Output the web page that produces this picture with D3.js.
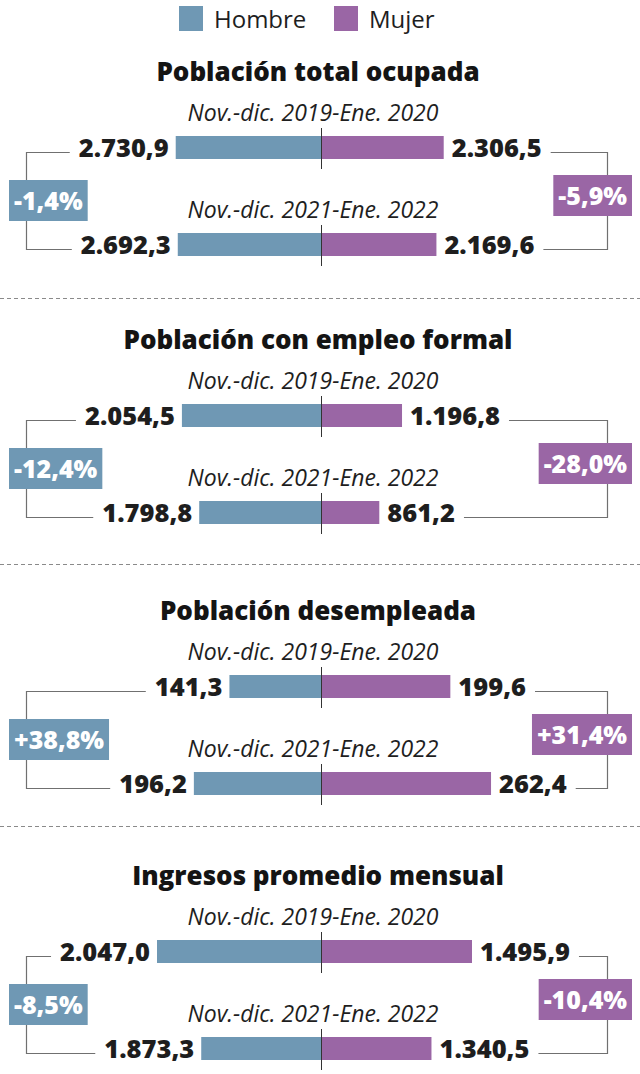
<!DOCTYPE html>
<html><head><meta charset="utf-8">
<script src="https://cdn.jsdelivr.net/npm/d3@7"></script>
<style>body{margin:0;background:#fff}</style>
</head><body>
<svg id="chart" width="640" height="1074"></svg>
<script>
// ---- data ----
const categories = ["Población total ocupada", "Población con empleo formal", "Población desempleada", "Ingresos promedio mensual"];
const periods = ["Nov.-dic. 2019-Ene. 2020", "Nov.-dic. 2021-Ene. 2022"];
const legendLabels = ["Hombre", "Mujer"];
const hombre2019 = [2730.9, 2054.5, 141.3, 2047.0];
const hombre2022 = [2692.3, 1798.8, 196.2, 1873.3];
const mujer2019 = [2306.5, 1196.8, 199.6, 1495.9];
const mujer2022 = [2169.6, 861.2, 262.4, 1340.5];
const cambioHombre = [-1.4, -12.4, 38.8, -8.5];
const cambioMujer = [-5.9, -28.0, 31.4, -10.4];

// ---- layout / style ----
const W = 640, H = 1074;
const CX = 321;
const BLUE = "#6f98b4", PURPLE = "#9a66a5", TXT = "#1e1e1e", LINE = "#707070";
const barTops = [136, 404, 675, 940];
const separators = [298, 564, 826];
const barH = 23, rowGap = 97;
// per-panel scale specs [domainMin, domainMax, pixelLength]
const scaleSpecs = [
  {h: [0, 3000, 159.6], m: [0, 3000, 159.6]},
  {h: [0, 2500, 169.25], m: [0, 2500, 169.25]},
  {h: [0, 300, 194.4], m: [0, 300, 194.4]},
  {h: [1403, 2047, 164], m: [917, 1495.9, 151]}
];

const svg = d3.select("#chart");
const locale = d3.formatLocale({decimal: ",", thousands: ".", grouping: [3], currency: ["", ""], minus: "-"});
const fmtVal = locale.format(",.1f");
const fmtPct = v => locale.format("+.1f")(v) + "%";

// legend
const legendX = [179, 334];
const legendColors = [BLUE, PURPLE];
legendLabels.forEach((l, i) => {
  svg.append("rect").attr("x", legendX[i]).attr("y", 6).attr("width", 24).attr("height", 25).attr("fill", legendColors[i]);
  svg.append("text").attr("x", legendX[i] + 35).attr("y", 28)
    .attr("font-family", "Open Sans").attr("font-size", 24).attr("fill", TXT).text(l);
});

// separators
separators.forEach(y => {
  svg.append("line").attr("x1", 0).attr("x2", W).attr("y1", y + 0.5).attr("y2", y + 0.5)
    .attr("stroke", "#8a8a8a").attr("stroke-width", 1).attr("stroke-dasharray", "4,3");
});

categories.forEach((cat, p) => {
  const g = svg.append("g");
  const top1 = barTops[p], top2 = barTops[p] + rowGap;
  const sh = scaleSpecs[p].h, sm = scaleSpecs[p].m;
  const xH = d3.scaleLinear().domain([sh[0], sh[1]]).range([CX, CX - sh[2]]);
  const xM = d3.scaleLinear().domain([sm[0], sm[1]]).range([CX, CX + sm[2]]);

  // title
  g.append("text").attr("x", 318).attr("y", top1 - 55).attr("text-anchor", "middle")
    .attr("font-family", "Open Sans").attr("font-weight", 800).attr("font-size", 26)
    .attr("fill", "#141414").text(cat);

  const rows = [
    {top: top1, h: hombre2019[p], m: mujer2019[p], period: periods[0]},
    {top: top2, h: hombre2022[p], m: mujer2022[p], period: periods[1]}
  ];
  const leftEnds = [], rightEnds = [];
  rows.forEach(r => {
    g.append("text").attr("x", 313).attr("y", r.top - 15).attr("text-anchor", "middle")
      .attr("font-family", "Open Sans").attr("font-style", "italic").attr("font-size", 23)
      .attr("fill", TXT).text(r.period);
    g.append("rect").attr("x", xH(r.h)).attr("y", r.top).attr("width", CX - xH(r.h)).attr("height", barH).attr("fill", BLUE);
    g.append("rect").attr("x", CX).attr("y", r.top).attr("width", xM(r.m) - CX).attr("height", barH).attr("fill", PURPLE);
    g.append("line").attr("x1", CX + 0.5).attr("x2", CX + 0.5).attr("y1", r.top - 8).attr("y2", r.top + barH + 10)
      .attr("stroke", "#333").attr("stroke-width", 1);
    const th = g.append("text").attr("x", xH(r.h) - 7).attr("y", r.top + barH - 2).attr("text-anchor", "end")
      .attr("font-family", "Open Sans").attr("font-weight", 800).attr("font-size", 25.5).attr("fill", TXT).text(fmtVal(r.h));
    const tm = g.append("text").attr("x", xM(r.m) + 8).attr("y", r.top + barH - 2)
      .attr("font-family", "Open Sans").attr("font-weight", 800).attr("font-size", 25.5).attr("fill", TXT).text(fmtVal(r.m));
    leftEnds.push(xH(r.h) - 7 - th.node().getComputedTextLength() - 9);
    rightEnds.push(xM(r.m) + 8 + tm.node().getComputedTextLength() + 9);
  });

  // brackets
  const y1 = top1 + 16, y2 = top2 + 16, mid = (y1 + y2) / 2;
  const LX = 26, RX = 607;
  g.append("path").attr("d", `M${leftEnds[0]},${y1 + 0.5}H${LX + 0.5}V${y2 + 0.5}H${leftEnds[1]}`)
    .attr("fill", "none").attr("stroke", LINE).attr("stroke-width", 1.2);
  g.append("path").attr("d", `M${rightEnds[0]},${y1 + 0.5}H${RX + 0.5}V${y2 + 0.5}H${rightEnds[1]}`)
    .attr("fill", "none").attr("stroke", LINE).attr("stroke-width", 1.2);

  // change boxes
  const boxH = 41;
  const lt = g.append("text").attr("font-family", "Open Sans").attr("font-weight", 800).attr("font-size", 25)
    .attr("fill", "#fff").attr("text-anchor", "middle").text(fmtPct(cambioHombre[p]));
  const lw = lt.node().getComputedTextLength() + 10;
  g.append("rect").attr("x", 9).attr("y", mid - boxH / 2).attr("width", lw).attr("height", boxH).attr("fill", BLUE);
  lt.attr("x", 9 + lw / 2).attr("y", mid + 9).raise();

  const rt = g.append("text").attr("font-family", "Open Sans").attr("font-weight", 800).attr("font-size", 25)
    .attr("fill", "#fff").attr("text-anchor", "middle").text(fmtPct(cambioMujer[p]));
  const rw = rt.node().getComputedTextLength() + 10;
  const rmid = mid - 5;
  g.append("rect").attr("x", 632 - rw).attr("y", rmid - boxH / 2).attr("width", rw).attr("height", boxH).attr("fill", PURPLE);
  rt.attr("x", 632 - rw / 2).attr("y", rmid + 9).raise();
});
</script>
</body></html>
